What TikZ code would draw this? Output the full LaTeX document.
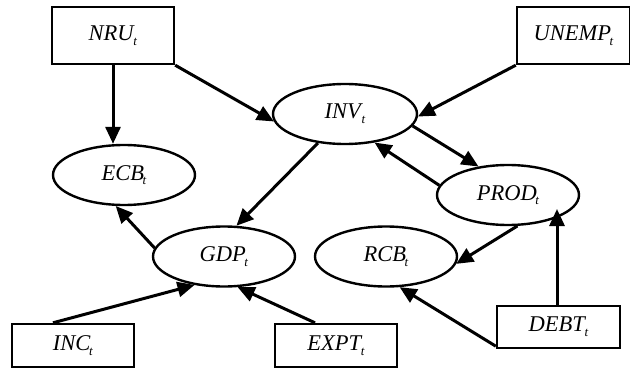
\documentclass[tikz,border=0pt]{standalone}
\usepackage{fontspec}
\setmainfont{Liberation Serif}
\usetikzlibrary{shapes.geometric,arrows.meta}
\newcommand{\lbl}[2]{\textit{#1}\kern-1.5pt\raisebox{-0.45ex}{\fontsize{13}{13}\selectfont\textit{#2}}}
\tikzset{
  box/.style={draw, line width=2.4pt, rectangle, minimum width=122pt, minimum height=57pt, inner sep=0pt, font=\fontsize{22.5}{24}\selectfont},
  oval/.style={draw, line width=2.4pt, ellipse, minimum width=142pt, minimum height=60pt, inner sep=0pt, font=\fontsize{22.5}{24}\selectfont},
  arr/.style={line width=3pt, -{Triangle[length=17pt,width=15pt]}, shorten >=0pt}
}
\begin{document}
\begin{tikzpicture}[x=1pt,y=-1pt]
\useasboundingbox (0,0) rectangle (630,369);
\node[box] (nru) at (113,35.5) {\lbl{NRU}{t}};
\node[box, minimum width=113pt] (unemp) at (573.5,35.5) {\lbl{UNEMP}{t}};
\node[oval, minimum width=144pt] (inv) at (345,114) {\lbl{INV}{t}};
\node[oval] (ecb) at (124,175) {\lbl{ECB}{t}};
\node[oval] (gdp) at (224,256.5) {\lbl{GDP}{t}};
\node[oval] (prod) at (508,195) {\lbl{PROD}{t}};
\node[oval] (rcb) at (386,256.5) {\lbl{RCB}{t}};
\node[box, minimum height=43pt] (inc) at (73,345.5) {\lbl{INC}{t}};
\node[box, minimum height=43pt] (expt) at (336,345.5) {\lbl{EXPT}{t}};
\node[box, minimum width=123pt, minimum height=42pt] (debt) at (558.5,327) {\lbl{DEBT}{t}};
\coordinate (pe) at (557,209);
\draw[arr] (nru.south) -- (nru.south |- ecb.north);
\draw[arr] (nru.south east) -- (inv.186);
\draw[arr] (unemp.south west) -- (inv.-2);
\draw[arr] (inv.-10) -- (prod.136);
\draw[arr] (prod.172) -- (inv.-44);
\draw[arr] (inv.-133) -- (gdp.68);
\draw[arr] (gdp.173) -- (ecb.-105);
\draw[arr] ([xshift=-20pt]inc.north) -- (gdp.-136);
\draw[arr] ([xshift=-21pt]expt.north) -- (gdp.-66);
\draw[arr] (prod.-73) -- (rcb.-6);
\draw[arr] ([xshift=-1.5pt]debt.north) -- (pe);
\draw[arr] ([yshift=3pt]debt.south west) -- (rcb.-66);
\end{tikzpicture}
\end{document}
